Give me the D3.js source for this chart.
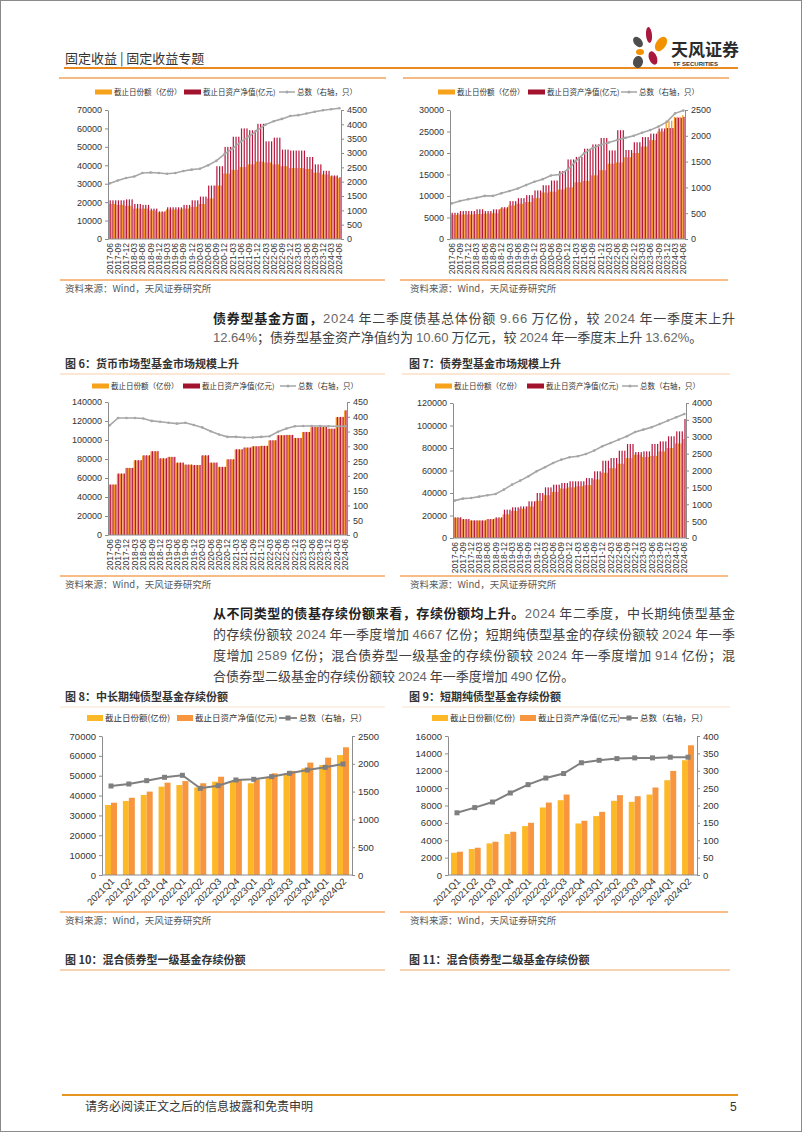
<!DOCTYPE html>
<html><head><meta charset="utf-8">
<script src="https://cdn.jsdelivr.net/npm/d3@7"></script>
<style>body{margin:0;background:#fff}svg{display:block}</style>
</head><body>
<svg id="page" width="802" height="1133"></svg>
<script>
// ---------- categories / tick labels ----------
const quarterTicks = ["2017-06","2017-09","2017-12","2018-03","2018-06","2018-09","2018-12","2019-03","2019-06","2019-09","2019-12","2020-03","2020-06","2020-09","2020-12","2021-03","2021-06","2021-09","2021-12","2022-03","2022-06","2022-09","2022-12","2023-03","2023-06","2023-09","2023-12","2024-03","2024-06"];
const quarters = ["2021Q1","2021Q2","2021Q3","2021Q4","2022Q1","2022Q2","2022Q3","2022Q4","2023Q1","2023Q2","2023Q3","2023Q4","2024Q1","2024Q2"];

// ---------- top-left chart (quarterly values, shown monthly) ----------
const figAShares = [19000,18500,18000,16500,16500,15500,14500,16000,16000,16500,17500,19000,22000,29000,35500,37500,39000,40500,42000,41500,40500,39500,38500,38500,38000,36000,35000,34000,33000];
const figANav    = [21000,21000,21500,19000,18500,16500,15000,17200,17200,18500,21000,23000,29000,39500,50000,55500,60000,59000,62500,53000,55000,48500,48000,48000,44500,40500,37000,34500,33500];
const figACount  = [1940,2040,2130,2180,2300,2320,2300,2275,2300,2370,2420,2450,2570,2725,2960,3160,3400,3580,3790,3990,4110,4190,4290,4320,4380,4440,4490,4525,4560];

// ---------- top-right chart ----------
const figBShares = [5600,5700,5700,5800,5900,6000,7100,7800,8200,8600,9500,10800,11000,11500,12000,13200,13500,14800,16000,17500,17800,19000,20000,21500,23000,25000,27500,28400,28800];
const figBNav    = [6100,6500,6500,6900,6500,6900,7400,8800,9500,10200,11300,12500,13600,15800,18500,19100,21000,22000,23500,20600,25300,20700,22500,23700,24500,25700,25800,28200,28400];
const figBCount  = [690,735,770,800,835,835,885,930,980,1045,1110,1160,1230,1250,1340,1510,1660,1760,1820,1870,1920,1960,2000,2060,2110,2180,2270,2435,2490];

// ---------- fig 6 money market ----------
const fig6Shares = [53000,64500,70500,78500,83500,88000,80500,82000,76000,74000,73500,83500,76000,71500,79500,90000,92000,93300,93800,99500,105000,105200,102000,108300,113500,113500,111800,124000,131000];
const fig6Nav    = [53200,64800,70700,78800,84000,88300,80800,82300,76300,74200,73700,84000,76300,71800,79800,90300,92100,93500,93900,99800,105100,105400,102200,108500,113800,113800,112000,124300,131300];
const fig6Count  = [371,396,396,396,394,386,383,380,377,380,372,364,351,340,332,332,330,330,332,334,349,360,368,369,369,369,368,368,368];

// ---------- fig 7 bond funds ----------
const fig7Shares = [18000,16500,15500,15500,16500,17500,21000,24000,26000,28000,33000,38000,41000,44000,45000,46000,47000,52000,58000,62000,66000,71000,74000,72000,73000,77000,80000,84000,88000];
const fig7Nav    = [18400,16900,15700,15700,16900,18400,25200,27300,28100,32600,40000,45000,47400,48900,50400,50400,53300,59300,68700,71100,77600,83600,76400,77000,83600,85900,90400,94800,105800];
const fig7Count  = [1107,1166,1186,1225,1265,1304,1433,1581,1700,1828,1976,2095,2223,2322,2391,2421,2490,2589,2717,2816,2915,3014,3142,3211,3281,3379,3478,3577,3676];

// ---------- fig 8 ----------
const fig8Shares = [35250,37300,40300,44500,45300,44100,47000,47000,46200,49200,50400,53700,55400,60400];
const fig8Nav    = [36400,38900,42000,46500,47300,46200,49500,48200,48200,51200,52400,56600,59100,64300];
const fig8Count  = [1601,1637,1697,1757,1793,1559,1607,1709,1721,1769,1829,1888,1937,1996];

// ---------- fig 9 ----------
const fig9Shares = [2560,2990,3640,4710,5630,7770,8610,5930,6780,8540,8420,9260,10910,13210];
const fig9Nav    = [2680,3140,3830,4980,6010,8340,9260,6240,7270,9190,9070,10070,11980,14930];
const fig9Count  = [179,194,210,236,260,279,292,323,330,335,337,337,339,339];

// ---------- styles ----------
const CJK = "'Noto Sans CJK SC','Noto Sans',sans-serif";
const NUM = "'Liberation Sans',Arial,sans-serif";
const C_OR = "#F5921E", C_RED = "#B5163D", C_GRAY = "#A6A6A6";
const C_YEL = "#FDB827", C_ORG = "#F7963F", C_DARK = "#7F7F7F";
const C_LINE = "#F2A25A";

const months = d3.timeMonths(new Date(2017,5,1), new Date(2024,6,1)).map(d3.timeFormat("%Y-%m"));
const svg = d3.select("#page");

function txt(x, y, s, size, opt={}) {
  return svg.append("text").attr("x",x).attr("y",y).text(s)
    .style("font-family", opt.font || CJK).style("font-size", size+"px")
    .style("font-weight", opt.bold ? "bold" : "normal")
    .attr("fill", opt.color || "#333").attr("text-anchor", opt.anchor || "start");
}
function hline(x1,x2,y,color,w){
  svg.append("line").attr("x1",x1).attr("x2",x2).attr("y1",y).attr("y2",y).attr("stroke",color).attr("stroke-width",w);
}
function styleAxis(a, size){
  a.select(".domain").attr("stroke","#8c8c8c");
  a.selectAll(".tick line").attr("stroke","#8c8c8c");
  a.selectAll(".tick text").attr("fill","#333").style("font-family",NUM).style("font-size",size+"px");
}

// page frame
svg.append("rect").attr("x",0.5).attr("y",0.5).attr("width",801).attr("height",1131).attr("fill","none").attr("stroke","#8a8a8a");

// ---------- header ----------
txt(65, 63, "固定收益 | 固定收益专题", 13, {color:"#333"});
hline(64, 738, 68, "#EC8A22", 2);
const logo = svg.append("g");
[[649,35,3,8,-5,"#A8193D"],[661,44,5,8,35,"#F39200"],[638,42,4,6,-40,"#4D4D4D"],[640,52,4,3,0,"#F39200"],[653,58,4,7,-20,"#A8193D"],[638,62,5,6,10,"#4D4D4D"]]
  .forEach(p=>logo.append("ellipse").attr("cx",p[0]).attr("cy",p[1]).attr("rx",p[2]).attr("ry",p[3])
    .attr("transform",`rotate(${p[4]},${p[0]},${p[1]})`).attr("fill",p[5]));
txt(671, 56, "天风证券", 17, {bold:true, color:"#2b2b2b"});
txt(673, 66, "TF SECURITIES", 6, {font:NUM, bold:true, color:"#333"});
hline(59, 386, 78, C_LINE, 1.5);
hline(403, 729, 78, C_LINE, 1.5);

// ---------- legends ----------
function legend(y, items, size){
  items.forEach(it=>{
    if (it.type==="rect") {
      svg.append("rect").attr("x",it.x).attr("y",y-it.h/2).attr("width",it.w).attr("height",it.h).attr("fill",it.color);
    } else {
      svg.append("line").attr("x1",it.x).attr("x2",it.x+it.w).attr("y1",y).attr("y2",y).attr("stroke",it.color).attr("stroke-width",it.lw||1.5);
      if (it.sq) svg.append("rect").attr("x",it.x+it.w/2-2.5).attr("y",y-2.5).attr("width",5).attr("height",5).attr("fill",it.color);
      else svg.append("circle").attr("cx",it.x+it.w/2).attr("cy",y).attr("r",1.5).attr("fill",it.color);
    }
    txt(it.x+it.w+2, y+size*0.36, it.label, size, {color:"#333"});
  });
}

// ---------- monthly charts ----------
function monthlyChart(c){
  const g = svg.append("g");
  const x = d3.scaleBand().domain(months).range([c.x0, c.x1]).paddingInner(0.12).paddingOuter(0.15);
  const yL = d3.scaleLinear().domain([0,c.lMax]).range([c.yB,c.yT]);
  const yR = d3.scaleLinear().domain([0,c.rMax]).range([c.yB,c.yT]);
  const bw = x.bandwidth()/2;
  const q = i => Math.floor(i/3);
  g.append("g").selectAll("rect").data(months).join("rect")
    .attr("x",d=>x(d)).attr("width",bw)
    .attr("y",(d,i)=>yL(c.shares[q(i)])).attr("height",(d,i)=>c.yB-yL(c.shares[q(i)])).attr("fill",C_OR);
  g.append("g").selectAll("rect").data(months).join("rect")
    .attr("x",d=>x(d)+bw).attr("width",bw)
    .attr("y",(d,i)=>yL(c.nav[q(i)])).attr("height",(d,i)=>c.yB-yL(c.nav[q(i)])).attr("fill",C_RED);
  const pts = c.count.map((v,k)=>[x(months[3*k])+x.bandwidth()/2, yR(v)]);
  g.append("path").attr("d",d3.line()(pts)).attr("fill","none").attr("stroke",C_GRAY).attr("stroke-width",1.6);
  g.append("g").selectAll("circle").data(pts).join("circle").attr("cx",p=>p[0]).attr("cy",p=>p[1]).attr("r",1.3).attr("fill",C_GRAY);
  const aL = g.append("g").attr("transform",`translate(${c.x0},0)`)
    .call(d3.axisLeft(yL).tickValues(d3.range(0,c.lMax+1,c.lStep)).tickSize(3).tickSizeOuter(0).tickPadding(3).tickFormat(d3.format("d")));
  styleAxis(aL, 9);
  const aR = g.append("g").attr("transform",`translate(${c.x1},0)`)
    .call(d3.axisRight(yR).tickValues(d3.range(0,c.rMax+1,c.rStep)).tickSize(3).tickSizeOuter(0).tickPadding(3).tickFormat(d3.format("d")));
  styleAxis(aR, 9);
  const aB = g.append("g").attr("transform",`translate(0,${c.yB})`)
    .call(d3.axisBottom(x).tickValues(months.filter((d,i)=>i%3===0)).tickFormat((d,i)=>quarterTicks[i]).tickSize(0).tickSizeOuter(0));
  styleAxis(aB, 8.5);
  aB.select(".domain").remove();
  aB.selectAll(".tick text").attr("transform","rotate(-90)").attr("text-anchor","end").attr("x",-4).attr("y",0).attr("dy","0.35em");
  g.append("line").attr("x1",c.x0).attr("x2",c.x1).attr("y1",c.yB).attr("y2",c.yB).attr("stroke","#8c8c8c");
  legend(c.ly, [
    {type:"rect", x:c.lx[0], w:17, h:5, color:"#F7A21B", label:"截止日份额（亿份）"},
    {type:"rect", x:c.lx[1], w:17, h:5, color:"#A3132E", label:"截止日资产净值(亿元)"},
    {type:"line", x:c.lx[2], w:16, color:C_GRAY, label:"总数（右轴，只）"}
  ], 7.5);
}

monthlyChart({x0:108,x1:341,yT:110,yB:239,lMax:70000,lStep:10000,rMax:4500,rStep:500,
  shares:figAShares,nav:figANav,count:figACount,ly:92,lx:[95,184,279]});
monthlyChart({x0:450,x1:685,yT:110,yB:239,lMax:30000,lStep:5000,rMax:2500,rStep:500,
  shares:figBShares,nav:figBNav,count:figBCount,ly:92,lx:[438,528,621]});
monthlyChart({x0:108,x1:347,yT:402,yB:535,lMax:140000,lStep:20000,rMax:450,rStep:50,
  shares:fig6Shares,nav:fig6Nav,count:fig6Count,ly:386,lx:[92,183,280]});
monthlyChart({x0:453,x1:686,yT:403,yB:538,lMax:120000,lStep:20000,rMax:4000,rStep:500,
  shares:fig7Shares,nav:fig7Nav,count:fig7Count,ly:386,lx:[435,527,622]});

// ---------- quarterly charts ----------
function quarterChart(c){
  const g = svg.append("g");
  const x = d3.scaleBand().domain(quarters).range([c.x0, c.x1]).paddingInner(0.33).paddingOuter(0.17);
  const yL = d3.scaleLinear().domain([0,c.lMax]).range([c.yB,c.yT]);
  const yR = d3.scaleLinear().domain([0,c.rMax]).range([c.yB,c.yT]);
  const bw = x.bandwidth()/2;
  g.append("g").selectAll("rect").data(quarters).join("rect")
    .attr("x",d=>x(d)).attr("width",bw)
    .attr("y",(d,i)=>yL(c.shares[i])).attr("height",(d,i)=>c.yB-yL(c.shares[i])).attr("fill",C_YEL);
  g.append("g").selectAll("rect").data(quarters).join("rect")
    .attr("x",d=>x(d)+bw).attr("width",bw)
    .attr("y",(d,i)=>yL(c.nav[i])).attr("height",(d,i)=>c.yB-yL(c.nav[i])).attr("fill",C_ORG);
  const pts = c.count.map((v,k)=>[x(quarters[k])+x.bandwidth()/2, yR(v)]);
  g.append("path").attr("d",d3.line()(pts)).attr("fill","none").attr("stroke",C_DARK).attr("stroke-width",2);
  g.append("g").selectAll("rect").data(pts).join("rect").attr("x",p=>p[0]-2.5).attr("y",p=>p[1]-2.5).attr("width",5).attr("height",5).attr("fill",C_DARK);
  const aL = g.append("g").attr("transform",`translate(${c.x0},0)`)
    .call(d3.axisLeft(yL).tickValues(d3.range(0,c.lMax+1,c.lStep)).tickSize(3).tickSizeOuter(0).tickPadding(3).tickFormat(d3.format("d")));
  styleAxis(aL, 9.5);
  const aR = g.append("g").attr("transform",`translate(${c.x1},0)`)
    .call(d3.axisRight(yR).tickValues(d3.range(0,c.rMax+1,c.rStep)).tickSize(3).tickSizeOuter(0).tickPadding(3).tickFormat(d3.format("d")));
  styleAxis(aR, 9.5);
  const aB = g.append("g").attr("transform",`translate(0,${c.yB})`)
    .call(d3.axisBottom(x).tickSize(0).tickSizeOuter(0));
  styleAxis(aB, 9.5);
  aB.select(".domain").remove();
  aB.selectAll(".tick text").attr("text-anchor","end").attr("x",0).attr("y",0).attr("dy",0)
    .attr("transform","translate(4,7) rotate(-45)");
  g.append("line").attr("x1",c.x0).attr("x2",c.x1).attr("y1",c.yB).attr("y2",c.yB).attr("stroke","#8c8c8c");
  legend(c.ly, [
    {type:"rect", x:c.lx[0], w:16, h:6, color:C_YEL, label:"截止日份额(亿份)"},
    {type:"rect", x:c.lx[1], w:16, h:6, color:C_ORG, label:"截止日资产净值(亿元)"},
    {type:"line", x:c.lx[2], w:18, color:C_DARK, sq:true, lw:1.8, label:"总数（右轴，只）"}
  ], 8.5);
}
quarterChart({x0:102,x1:352,yT:736,yB:875,lMax:70000,lStep:10000,rMax:2500,rStep:500,
  shares:fig8Shares,nav:fig8Nav,count:fig8Count,ly:718,lx:[87,177,279]});
quarterChart({x0:448,x1:697,yT:736,yB:875,lMax:16000,lStep:2000,rMax:400,rStep:50,
  shares:fig9Shares,nav:fig9Nav,count:fig9Count,ly:718,lx:[432,520,620]});

// ---------- sources ----------
function source(x1,x2,y,tx){
  hline(x1,x2,y,"#F4A65C",1.5);
  txt(tx, y+12, "资料来源：Wind，天风证券研究所", 9.5, {color:"#595959"});
}
source(60,385,280,65); source(400,728,280,410);
source(60,385,576,65); source(400,728,576,410);
source(60,385,912,65); source(400,728,912,410);

// ---------- figure titles ----------
function ftitle(x,y,s,x1,x2,lc){
  txt(x,y,s,11,{bold:true,color:"#333"});
  hline(x1,x2,y+6,lc,1.2);
}
ftitle(65,368,"图 6：货币市场型基金市场规模上升",60,385,"#F8CFA8");
ftitle(409,368,"图 7：债券型基金市场规模上升",402,730,"#F8CFA8");
ftitle(65,701,"图 8：中长期纯债型基金存续份额",60,385,"#FBE3CC");
ftitle(409,701,"图 9：短期纯债型基金存续份额",402,730,"#FBE3CC");
ftitle(65,964,"图 10：混合债券型一级基金存续份额",60,385,"#F2A768");
ftitle(409,964,"图 11：混合债券型二级基金存续份额",400,730,"#F2A768");

// ---------- body paragraphs ----------
function para(x, y, parts, len){
  const t = svg.append("text").attr("x",x).attr("y",y).style("font-family",CJK).style("font-size","13px").attr("fill","#404040");
  if (len) t.attr("textLength",len).attr("lengthAdjust","spacing");
  parts.forEach(p=>{
    const s = t.append("tspan").text(p[0]);
    if (p[1]==="b") s.style("font-weight","bold").attr("fill","#222");
    if (p[1]==="n") s.style("font-family",NUM).attr("fill","#666");
  });
}
para(213,323,[["债券型基金方面，","b"],["2024","n"],[" 年二季度债基总体份额 "],["9.66","n"],[" 万亿份，较 "],["2024","n"],[" 年一季度末上升"]],522);
para(213,342,[["12.64%","n"],["；债券型基金资产净值约为 "],["10.60","n"],[" 万亿元，较 "],["2024","n"],[" 年一季度末上升 "],["13.62%","n"],["。"]]);
para(213,618,[["从不同类型的债基存续份额来看，存续份额均上升。","b"],["2024","n"],[" 年二季度，中长期纯债型基金"]],522);
para(213,639,[["的存续份额较 "],["2024","n"],[" 年一季度增加 "],["4667","n"],[" 亿份；短期纯债型基金的存续份额较 "],["2024","n"],[" 年一季"]],522);
para(213,660,[["度增加 "],["2589","n"],[" 亿份；混合债券型一级基金的存续份额较 "],["2024","n"],[" 年一季度增加 "],["914","n"],[" 亿份；混"]],522);
para(213,681,[["合债券型二级基金的存续份额较 "],["2024","n"],[" 年一季度增加 "],["490","n"],[" 亿份。"]]);

// ---------- footer ----------
hline(62, 738, 1095, "#E8951F", 2);
txt(85, 1111, "请务必阅读正文之后的信息披露和免责申明", 12, {color:"#333"});
txt(730, 1111, "5", 12, {font:NUM, color:"#333"});
</script>
</body></html>
